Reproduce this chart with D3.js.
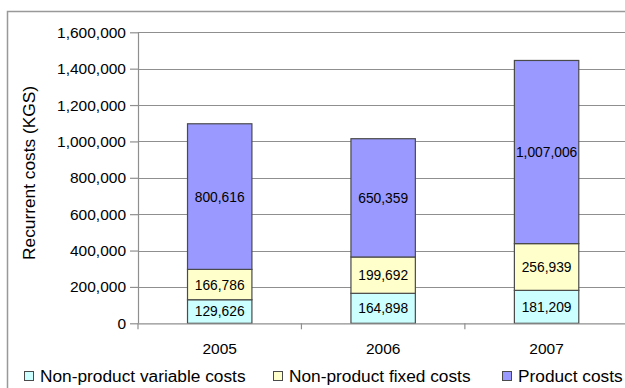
<!DOCTYPE html>
<html>
<head>
<meta charset="utf-8">
<script src="https://cdn.jsdelivr.net/npm/d3@7"></script>
<style>
  html, body { margin: 0; padding: 0; background: #fff; }
  svg { display: block; font-family: "Liberation Sans", Arial, sans-serif; }
</style>
</head>
<body>
<svg id="chart" width="625" height="388"></svg>
<script>
// Recurrent costs by year, stacked from the bottom up
const years = ["2005", "2006", "2007"];
const nonProductVariable = [129626, 164898, 181209];
const nonProductFixed = [166786, 199692, 256939];
const productCosts = [800616, 650359, 1007006];
const seriesNames = ["Non-product variable costs", "Non-product fixed costs", "Product costs"];
const seriesColors = ["#ccffff", "#ffffcc", "#9999ff"];
const yTicks = [0, 200000, 400000, 600000, 800000, 1000000, 1200000, 1400000, 1600000];

const svg = d3.select("#chart");

// outer frame of the chart area (runs off the right and bottom edges)
svg.append("rect")
  .attr("x", 7.5).attr("y", 11.5)
  .attr("width", 640).attr("height", 400)
  .attr("fill", "none").attr("stroke", "#999").attr("stroke-width", 1.5);

const plotLeft = 138, plotRight = 628.3, plotTop = 32.3, plotBottom = 323.3;

const band = d3.scaleBand().domain(years).range([plotLeft, plotRight]);
const y = d3.scaleLinear().domain([0, 1600000]).range([plotBottom, plotTop]);

// horizontal gridlines
svg.append("g").selectAll("line").data(yTicks.slice(1)).join("line")
  .attr("x1", plotLeft).attr("x2", plotRight)
  .attr("y1", d => Math.round(y(d)) + 0.5).attr("y2", d => Math.round(y(d)) + 0.5)
  .attr("stroke", "#8f8f8f").attr("stroke-width", 1.2);

// stacked bars
const rows = years.map((yr, i) => ({
  year: yr,
  [seriesNames[0]]: nonProductVariable[i],
  [seriesNames[1]]: nonProductFixed[i],
  [seriesNames[2]]: productCosts[i]
}));
const stacked = d3.stack().keys(seriesNames)(rows);

const barW = 64.4;
const layers = svg.append("g").selectAll("g").data(stacked).join("g")
  .attr("fill", (d, i) => seriesColors[i]);

layers.selectAll("rect").data(d => d).join("rect")
  .attr("x", d => band(d.data.year) + band.bandwidth() / 2 - barW / 2)
  .attr("y", d => y(d[1]))
  .attr("width", barW)
  .attr("height", d => y(d[0]) - y(d[1]))
  .attr("stroke", "#4a4a4a").attr("stroke-width", 1.2);

// value labels centred in each segment
const fmt = d3.format(",");
layers.selectAll("text").data(d => d).join("text")
  .attr("x", d => band(d.data.year) + band.bandwidth() / 2)
  .attr("y", d => (y(d[0]) + y(d[1])) / 2)
  .attr("dy", "0.36em")
  .attr("text-anchor", "middle")
  .attr("font-size", 13.8)
  .attr("fill", "#000")
  .text(d => fmt(d[1] - d[0]));

// y axis
const yAxis = d3.axisLeft(y).tickValues(yTicks).tickFormat(fmt).tickSize(8).tickPadding(4);
const gy = svg.append("g").attr("transform", `translate(${plotLeft},0)`).call(yAxis);
gy.select(".domain").attr("stroke", "#8f8f8f").attr("stroke-width", 1.2).attr("d", `M0.5,${plotTop}V${plotBottom}`);
gy.selectAll(".tick line").attr("stroke", "#8f8f8f").attr("stroke-width", 1.2);
gy.selectAll(".tick text").attr("font-size", 15.5).attr("fill", "#000")
  .attr("font-family", "Liberation Sans, Arial, sans-serif");

// x axis with tick marks at category boundaries
const gx = svg.append("g").attr("transform", `translate(0,${plotBottom})`);
gx.append("line").attr("x1", plotLeft).attr("x2", plotRight).attr("y1", 0.5).attr("y2", 0.5)
  .attr("stroke", "#8f8f8f").attr("stroke-width", 1.2);
gx.selectAll("line.bt").data([plotLeft, ...years.map(yr => band(yr) + band.bandwidth())]).join("line")
  .attr("class", "bt")
  .attr("x1", d => d).attr("x2", d => d).attr("y1", 0).attr("y2", 6)
  .attr("stroke", "#8f8f8f").attr("stroke-width", 1.2);
gx.selectAll("text").data(years).join("text")
  .attr("x", d => band(d) + band.bandwidth() / 2)
  .attr("y", 31)
  .attr("text-anchor", "middle")
  .attr("font-size", 15.5)
  .text(d => d);

// y axis title
svg.append("text")
  .attr("transform", "translate(35,173) rotate(-90)")
  .attr("text-anchor", "middle")
  .attr("font-size", 17.3)
  .text("Recurrent costs (KGS)");

// legend
const legendX = [24, 273, 502];
const lg = svg.append("g").selectAll("g").data(seriesNames).join("g")
  .attr("transform", (d, i) => `translate(${legendX[i]},371)`);
lg.append("rect").attr("x", 0.5).attr("y", 0.5).attr("width", 9).attr("height", 9)
  .attr("fill", (d, i) => seriesColors[i]).attr("stroke", "#4a4a4a").attr("stroke-width", 1);
lg.append("text").attr("x", 16).attr("y", 10.5).attr("font-size", 17.3).text(d => d);
</script>
</body>
</html>
